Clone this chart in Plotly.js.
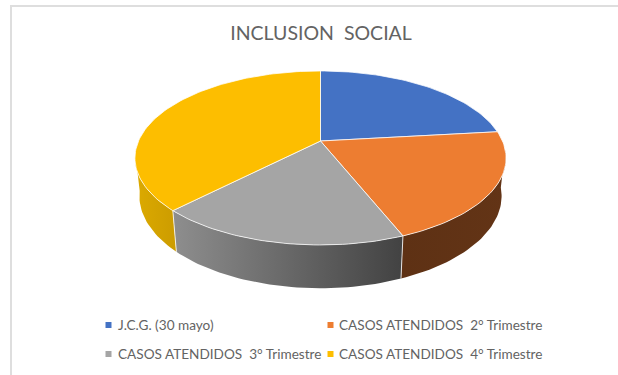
<!DOCTYPE html>
<html>
<head>
<meta charset="utf-8">
<script src="https://cdn.plot.ly/plotly-3.0.1.min.js"></script>
<style>html,body{margin:0;padding:0;background:#fff;overflow:hidden}#chart{width:618px;height:375px}</style>
</head>
<body>
<div id="chart"></div>
<script>
// Data
const chartTitle = "INCLUSION\u00a0 SOCIAL";
const categories = ["J.C.G. (30 mayo)", "CASOS ATENDIDOS\u00a0 2° Trimestre", "CASOS ATENDIDOS\u00a0 3° Trimestre", "CASOS ATENDIDOS\u00a0 4° Trimestre"];
const values = [23.2, 20.75, 18.35, 37.7];

// Styles
const topColors = ["#4472C4", "#ED7D31", "#A5A5A5", "#FDBE00"];
const wallGradients = [
  ["#2b4a80", "#2b4a80"],
  ["#5e3114", "#633416"],
  ["#8e8e8e", "#424242"],
  ["#dcaa00", "#cc9c00"]
];
const legendMarkPos = [[108.5, 325], [330.5, 325], [108.5, 354], [330.5, 354]];
const legendTextX = [116, 336.5, 116, 336.5];

// Perspective projection of the pie disc onto the page
const P = {cx: 320.5, cy: 141, R: 182, S: 83.7, k: 0.195};
const project = deg => {
  const t = deg * Math.PI / 180, u = Math.sin(t), v = Math.cos(t), w = 1 + P.k * v;
  return [P.cx + P.R * u / w, P.cy - P.S * v / w];
};
const lower = ([x, y]) => [P.cx + 0.976 * (x - P.cx), y + 38 + 0.06 * (y - 158)];
const arc = (a, b) => {
  const n = Math.max(2, Math.ceil((b - a) / 1.5)), out = [];
  for (let i = 0; i <= n; i++) out.push(project(a + (b - a) * i / n));
  return out;
};

const total = values.reduce((s, x) => s + x, 0);
let acc = 0;
const slices = values.map(v => {
  const a = acc / total * 360; acc += v;
  return [a, acc / total * 360];
});

const walls = [], tops = [], seams = {x: [], y: []};
const VIS = [96, 262];
slices.forEach(([a, b], i) => {
  const a2 = Math.max(a, VIS[0]), b2 = Math.min(b, VIS[1]);
  if (b2 > a2) {
    const rim = arc(a2, b2), low = rim.map(lower).reverse(), poly = rim.concat(low);
    poly.push(rim[0]);
    walls.push({
      type: "scatter", mode: "lines", hoverinfo: "skip", showlegend: false,
      name: categories[i] + " (lado)",
      x: poly.map(p => p[0]), y: poly.map(p => p[1]),
      line: {width: 0, color: wallGradients[i][0]},
      fill: "toself",
      fillgradient: {
        type: "horizontal",
        colorscale: [[0, wallGradients[i][0]], [1, wallGradients[i][1]]]
      }
    });
    // seam at the end of a visible slice
    if (b < VIS[1]) {
      const p = project(b), q = lower(p);
      seams.x.push(p[0], q[0], null); seams.y.push(p[1], q[1], null);
    }
  }
  const rim = arc(a, b);
  const poly = [[P.cx, P.cy]].concat(rim, [[P.cx, P.cy]]);
  tops.push({
    type: "scatter", mode: "lines", hoverinfo: "name", showlegend: false,
    name: categories[i],
    x: poly.map(p => p[0]), y: poly.map(p => p[1]),
    line: {width: 1, color: "rgba(255,255,255,0.75)"},
    fill: "toself", fillcolor: topColors[i]
  });
});

const seamTrace = {
  type: "scatter", mode: "lines", hoverinfo: "skip", showlegend: false, name: "seams",
  x: seams.x, y: seams.y, line: {width: 1, color: "rgba(255,255,255,0.8)"}
};
const legendMarks = {
  type: "scatter", mode: "markers", hoverinfo: "skip", showlegend: false, name: "legend",
  x: legendMarkPos.map(p => p[0]), y: legendMarkPos.map(p => p[1]),
  marker: {symbol: "square", size: 6, color: topColors, line: {width: 0}}
};

const font = "Lato, 'Open Sans', sans-serif";
const layout = {
  width: 618, height: 375,
  margin: {l: 0, r: 0, t: 0, b: 0},
  paper_bgcolor: "#fff", plot_bgcolor: "#fff",
  showlegend: false,
  title: {
    text: chartTitle, x: 321 / 618, xanchor: "center", xref: "paper",
    y: 1 - 33 / 375, yanchor: "middle", yref: "paper",
    font: {family: font, size: 19.5, color: "#636363"}
  },
  xaxis: {visible: false, range: [0, 618], fixedrange: true},
  yaxis: {visible: false, range: [375, 0], fixedrange: true},
  shapes: [
    {type: "line", xref: "x", yref: "y", x0: 10, x1: 618, y0: 6, y1: 6, line: {color: "#dedede", width: 2}},
    {type: "line", xref: "x", yref: "y", x0: 11, x1: 11, y0: 5, y1: 375, line: {color: "#dedede", width: 2}}
  ],
  annotations: categories.map((c, i) => ({
    text: c, xref: "x", yref: "y", x: legendTextX[i], y: legendMarkPos[i][1],
    xanchor: "left", yanchor: "middle", showarrow: false,
    font: {family: font, size: 13.6, color: "#636363"}
  }))
};

Plotly.newPlot("chart", walls.concat([seamTrace], tops, [legendMarks]), layout, {displayModeBar: false, staticPlot: true});
</script>
</body>
</html>
